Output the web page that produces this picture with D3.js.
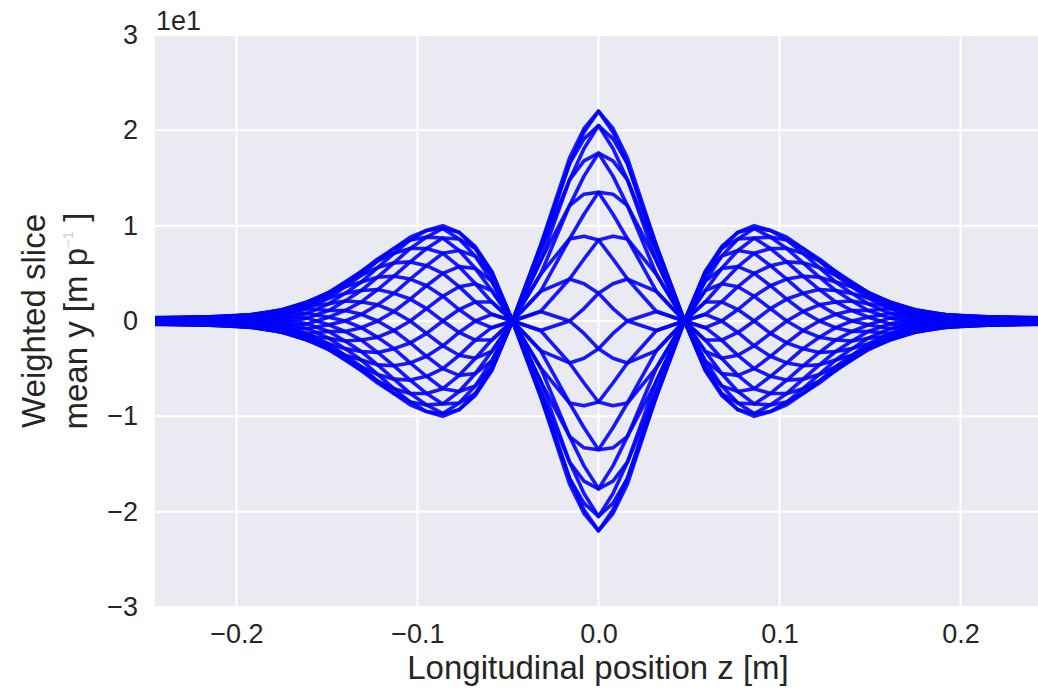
<!DOCTYPE html>
<html>
<head>
<meta charset="utf-8">
<script src="https://cdnjs.cloudflare.com/ajax/libs/d3/7.8.5/d3.min.js"></script>
<style>
  body { margin: 0; background: #fff; }
  text { font-family: "Liberation Sans", Arial, sans-serif; fill: #262626; }
</style>
</head>
<body>
<svg width="1038" height="690"></svg>
<script>
// longitudinal sample positions z [m]
const zPos = [
  -0.245, -0.215, -0.192, -0.175, -0.161, -0.149, -0.140, -0.131, -0.122, -0.113,
  -0.104, -0.095, -0.086, -0.077, -0.068, -0.059, -0.0475,
  -0.032, -0.016, -0.008, 0, 0.008, 0.016, 0.032,
  0.0475, 0.059, 0.068, 0.077, 0.086, 0.095, 0.104, 0.113, 0.122, 0.131,
  0.140, 0.149, 0.161, 0.175, 0.192, 0.215, 0.245
]

// weighted slice mean y, one row per z position, one value per slice (24 slices)
const meanY = [
  [0.35,0.34,0.30,0.25,0.18,0.09,0,-0.09,-0.18,-0.25,-0.30,-0.34,-0.35,-0.34,-0.30,-0.25,-0.18,-0.09,0,0.09,0.18,0.25,0.30,0.34],
  [0.39,0.32,0.23,0.12,0,-0.12,-0.23,-0.32,-0.39,-0.43,-0.45,-0.43,-0.39,-0.32,-0.23,-0.12,0,0.12,0.23,0.32,0.39,0.43,0.45,0.43],
  [0.34,0.18,0,-0.18,-0.34,-0.48,-0.59,-0.66,-0.68,-0.66,-0.59,-0.48,-0.34,-0.18,0,0.18,0.34,0.48,0.59,0.66,0.68,0.66,0.59,0.48],
  [0.16,-0.16,-0.46,-0.73,-0.95,-1.11,-1.19,-1.19,-1.11,-0.95,-0.73,-0.46,-0.16,0.16,0.46,0.73,0.95,1.11,1.19,1.19,1.11,0.95,0.73,0.46],
  [-0.3,-0.8,-1.3,-1.6,-1.9,-2.0,-2.0,-1.9,-1.6,-1.3,-0.8,-0.3,0.3,0.8,1.3,1.6,1.9,2.0,2.0,1.9,1.6,1.3,0.8,0.3],
  [-1.1,-1.8,-2.4,-2.8,-3.0,-3.0,-2.8,-2.4,-1.8,-1.1,-0.4,0.4,1.1,1.8,2.4,2.8,3.0,3.0,2.8,2.4,1.8,1.1,0.4,-0.4],
  [-2.1,-2.9,-3.6,-4.0,-4.1,-4.0,-3.6,-2.9,-2.1,-1.1,0,1.1,2.1,2.9,3.6,4.0,4.1,4.0,3.6,2.9,2.1,1.1,0,-1.1],
  [-3.2,-4.1,-4.8,-5.2,-5.2,-4.8,-4.1,-3.2,-2.0,-0.7,0.7,2.0,3.2,4.1,4.8,5.2,5.2,4.8,4.1,3.2,2.0,0.7,-0.7,-2.0],
  [-4.6,-5.6,-6.3,-6.5,-6.3,-5.6,-4.6,-3.3,-1.7,0,1.7,3.3,4.6,5.6,6.3,6.5,6.3,5.6,4.6,3.3,1.7,0,-1.7,-3.3],
  [-6.1,-7.1,-7.6,-7.6,-7.1,-6.1,-4.7,-2.9,-1.0,1.0,2.9,4.7,6.1,7.1,7.6,7.6,7.1,6.1,4.7,2.9,1.0,-1.0,-2.9,-4.7],
  [-7.6,-8.5,-8.8,-8.5,-7.6,-6.2,-4.4,-2.3,0,2.3,4.4,6.2,7.6,8.5,8.8,8.5,7.6,6.2,4.4,2.3,0,-2.3,-4.4,-6.2],
  [-8.8,-9.5,-9.5,-8.8,-7.6,-5.8,-3.7,-1.3,1.3,3.7,5.8,7.6,8.8,9.5,9.5,8.8,7.6,5.8,3.7,1.3,-1.3,-3.7,-5.8,-7.6],
  [-9.7,-10,-9.7,-8.7,-7.1,-5,-2.6,0,2.6,5,7.1,8.7,9.7,10,9.7,8.7,7.1,5,2.6,0,-2.6,-5,-7.1,-8.7],
  [-9.3,-9.3,-8.6,-7.4,-5.7,-3.6,-1.2,1.2,3.6,5.7,7.4,8.6,9.3,9.3,8.6,7.4,5.7,3.6,1.2,-1.2,-3.6,-5.7,-7.4,-8.6],
  [-7.8,-7.6,-6.8,-5.5,-3.9,-2.0,0,2.0,3.9,5.5,6.8,7.6,7.8,7.6,6.8,5.5,3.9,2.0,0,-2.0,-3.9,-5.5,-6.8,-7.6],
  [-5.2,-4.9,-4.2,-3.2,-2.0,-0.7,0.7,2.0,3.2,4.2,4.9,5.2,5.2,4.9,4.2,3.2,2.0,0.7,-0.7,-2.0,-3.2,-4.2,-4.9,-5.2],
  [0,0,0,0,0,0,0,0,0,0,0,0,0,0,0,0,0,0,0,0,0,0,0,0],
  [-7.4,-6.3,-4.9,-3.1,-1.0,1.0,3.1,4.9,6.3,7.4,7.9,7.9,7.4,6.3,4.9,3.1,1.0,-1.0,-3.1,-4.9,-6.3,-7.4,-7.9,-7.9],
  [-14.8,-12.1,-8.6,-4.4,0,4.4,8.6,12.1,14.8,16.5,17.1,16.5,14.8,12.1,8.6,4.4,0,-4.4,-8.6,-12.1,-14.8,-16.5,-17.1,-16.5],
  [-16.8,-13.3,-8.9,-3.9,1.3,6.5,11.2,15.2,18.1,19.8,20.2,19.1,16.8,13.3,8.9,3.9,-1.3,-6.5,-11.2,-15.2,-18.1,-19.8,-20.2,-19.1],
  [-17.6,-13.5,-8.5,-2.9,2.9,8.5,13.5,17.6,20.5,22.0,22.0,20.5,17.6,13.5,8.5,2.9,-2.9,-8.5,-13.5,-17.6,-20.5,-22.0,-22.0,-20.5],
  [-15.2,-11.2,-6.5,-1.3,3.9,8.9,13.3,16.8,19.1,20.2,19.8,18.1,15.2,11.2,6.5,1.3,-3.9,-8.9,-13.3,-16.8,-19.1,-20.2,-19.8,-18.1],
  [-12.1,-8.6,-4.4,0,4.4,8.6,12.1,14.8,16.5,17.1,16.5,14.8,12.1,8.6,4.4,0,-4.4,-8.6,-12.1,-14.8,-16.5,-17.1,-16.5,-14.8],
  [-4.9,-3.1,-1.0,1.0,3.1,4.9,6.3,7.4,7.9,7.9,7.4,6.3,4.9,3.1,1.0,-1.0,-3.1,-4.9,-6.3,-7.4,-7.9,-7.9,-7.4,-6.3],
  [0,0,0,0,0,0,0,0,0,0,0,0,0,0,0,0,0,0,0,0,0,0,0,0],
  [-2.0,-0.7,0.7,2.0,3.2,4.2,4.9,5.2,5.2,4.9,4.2,3.2,2.0,0.7,-0.7,-2.0,-3.2,-4.2,-4.9,-5.2,-5.2,-4.9,-4.2,-3.2],
  [-2.0,0,2.0,3.9,5.5,6.8,7.6,7.8,7.6,6.8,5.5,3.9,2.0,0,-2.0,-3.9,-5.5,-6.8,-7.6,-7.8,-7.6,-6.8,-5.5,-3.9],
  [-1.2,1.2,3.6,5.7,7.4,8.6,9.3,9.3,8.6,7.4,5.7,3.6,1.2,-1.2,-3.6,-5.7,-7.4,-8.6,-9.3,-9.3,-8.6,-7.4,-5.7,-3.6],
  [0,2.6,5,7.1,8.7,9.7,10,9.7,8.7,7.1,5,2.6,0,-2.6,-5,-7.1,-8.7,-9.7,-10,-9.7,-8.7,-7.1,-5,-2.6],
  [1.3,3.7,5.8,7.6,8.8,9.5,9.5,8.8,7.6,5.8,3.7,1.3,-1.3,-3.7,-5.8,-7.6,-8.8,-9.5,-9.5,-8.8,-7.6,-5.8,-3.7,-1.3],
  [2.3,4.4,6.2,7.6,8.5,8.8,8.5,7.6,6.2,4.4,2.3,0,-2.3,-4.4,-6.2,-7.6,-8.5,-8.8,-8.5,-7.6,-6.2,-4.4,-2.3,0],
  [2.9,4.7,6.1,7.1,7.6,7.6,7.1,6.1,4.7,2.9,1.0,-1.0,-2.9,-4.7,-6.1,-7.1,-7.6,-7.6,-7.1,-6.1,-4.7,-2.9,-1.0,1.0],
  [3.3,4.6,5.6,6.3,6.5,6.3,5.6,4.6,3.3,1.7,0,-1.7,-3.3,-4.6,-5.6,-6.3,-6.5,-6.3,-5.6,-4.6,-3.3,-1.7,0,1.7],
  [3.2,4.1,4.8,5.2,5.2,4.8,4.1,3.2,2.0,0.7,-0.7,-2.0,-3.2,-4.1,-4.8,-5.2,-5.2,-4.8,-4.1,-3.2,-2.0,-0.7,0.7,2.0],
  [2.9,3.6,4.0,4.1,4.0,3.6,2.9,2.1,1.1,0,-1.1,-2.1,-2.9,-3.6,-4.0,-4.1,-4.0,-3.6,-2.9,-2.1,-1.1,0,1.1,2.1],
  [2.4,2.8,3.0,3.0,2.8,2.4,1.8,1.1,0.4,-0.4,-1.1,-1.8,-2.4,-2.8,-3.0,-3.0,-2.8,-2.4,-1.8,-1.1,-0.4,0.4,1.1,1.8],
  [1.9,2.0,2.0,1.9,1.6,1.3,0.8,0.3,-0.3,-0.8,-1.3,-1.6,-1.9,-2.0,-2.0,-1.9,-1.6,-1.3,-0.8,-0.3,0.3,0.8,1.3,1.6],
  [1.19,1.19,1.11,0.95,0.73,0.46,0.16,-0.16,-0.46,-0.73,-0.95,-1.11,-1.19,-1.19,-1.11,-0.95,-0.73,-0.46,-0.16,0.16,0.46,0.73,0.95,1.11],
  [0.66,0.59,0.48,0.34,0.18,0,-0.18,-0.34,-0.48,-0.59,-0.66,-0.68,-0.66,-0.59,-0.48,-0.34,-0.18,0,0.18,0.34,0.48,0.59,0.66,0.68],
  [0.32,0.23,0.12,0,-0.12,-0.23,-0.32,-0.39,-0.43,-0.45,-0.43,-0.39,-0.32,-0.23,-0.12,0,0.12,0.23,0.32,0.39,0.43,0.45,0.43,0.39],
  [0.09,0,-0.09,-0.18,-0.25,-0.30,-0.34,-0.35,-0.34,-0.30,-0.25,-0.18,-0.09,0,0.09,0.18,0.25,0.30,0.34,0.35,0.34,0.30,0.25,0.18]
]

const xTicks = [-0.2, -0.1, 0, 0.1, 0.2]
const yTicks = [-30, -20, -10, 0, 10, 20, 30]

const svg = d3.select('svg')
const plotLeft = 155
const plotRight = 1042
const plotTop = 35
const plotBottom = 607

const x = d3.scaleLinear().domain([-0.245, 0.245]).range([plotLeft, plotRight])
const y = d3.scaleLinear().domain([-30, 30]).range([plotBottom, plotTop])

// seaborn darkgrid background
svg.append('rect')
  .attr('x', plotLeft).attr('y', plotTop)
  .attr('width', plotRight - plotLeft).attr('height', plotBottom - plotTop)
  .attr('fill', '#eaeaf2')

svg.append('clipPath').attr('id', 'plot-clip')
  .append('rect')
  .attr('x', plotLeft).attr('y', plotTop)
  .attr('width', plotRight - plotLeft).attr('height', plotBottom - plotTop)

// grid lines
svg.append('g')
  .selectAll('line')
  .data(xTicks)
  .enter()
  .append('line')
  .attr('x1', d => x(d)).attr('x2', d => x(d))
  .attr('y1', plotTop).attr('y2', plotBottom)
  .attr('stroke', '#fff').attr('stroke-width', 2)

svg.append('g')
  .selectAll('line')
  .data(yTicks)
  .enter()
  .append('line')
  .attr('x1', plotLeft).attr('x2', plotRight)
  .attr('y1', d => y(d)).attr('y2', d => y(d))
  .attr('stroke', '#fff').attr('stroke-width', 2)

// axes (labels only)
const xAxis = d3.axisBottom(x)
  .tickValues(xTicks)
  .tickFormat(d3.format('.1f'))
  .tickSize(0)
  .tickPadding(17)

const yAxis = d3.axisLeft(y)
  .tickValues(yTicks)
  .tickFormat(d => d3.format('d')(d / 10))
  .tickSize(0)
  .tickPadding(17)

const gx = svg.append('g')
  .attr('transform', `translate(0, ${plotBottom})`)
  .call(xAxis)
const gy = svg.append('g')
  .attr('transform', `translate(${plotLeft}, 0)`)
  .call(yAxis)

;[gx, gy].forEach(g => {
  g.select('.domain').remove()
  g.attr('font-size', 27).attr('font-family', null)
  g.selectAll('text').attr('fill', '#262626')
})

// offset text
svg.append('text')
  .attr('x', 156).attr('y', 30)
  .attr('font-size', 27)
  .text('1e1')

// slice traces
const line = d3.line()
  .x(d => x(d[0]))
  .y(d => y(d[1]))

const slices = d3.range(meanY[0].length)

svg.append('g')
  .attr('clip-path', 'url(#plot-clip)')
  .selectAll('path')
  .data(slices)
  .enter()
  .append('path')
  .attr('d', s => line(zPos.map((z, k) => [z, meanY[k][s]])))
  .attr('fill', 'none')
  .attr('stroke', '#0000ff')
  .attr('stroke-width', 3.6)
  .attr('stroke-opacity', 0.9)
  .attr('stroke-linejoin', 'round')

// axis labels
svg.append('text')
  .attr('x', 598).attr('y', 679)
  .attr('text-anchor', 'middle')
  .attr('font-size', 33)
  .text('Longitudinal position z [m]')

svg.append('text')
  .attr('transform', 'translate(45, 321) rotate(-90)')
  .attr('text-anchor', 'middle')
  .attr('font-size', 33)
  .text('Weighted slice')

const ylab2 = svg.append('text')
  .attr('transform', 'translate(87, 321) rotate(-90)')
  .attr('text-anchor', 'middle')
  .attr('font-size', 33)
ylab2.append('tspan').text('mean y [m p')
ylab2.append('tspan')
  .attr('font-size', 15)
  .attr('dy', -14)
  .attr('fill', '#d0d0d0')
  .text('\u22121')
ylab2.append('tspan')
  .attr('dy', 14)
  .text(' ]')
</script>
</body>
</html>
